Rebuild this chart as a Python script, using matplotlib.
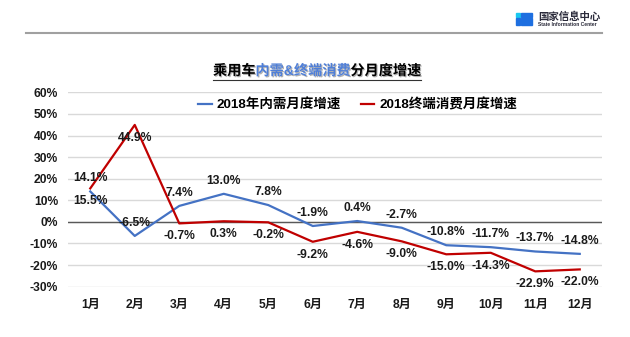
import matplotlib
matplotlib.use('Agg')
import matplotlib.pyplot as plt
import matplotlib.patheffects as pe
from matplotlib.offsetbox import TextArea, HPacker, AnchoredOffsetbox
from matplotlib.patches import Rectangle
from matplotlib.lines import Line2D

plt.rcParams['font.family'] = ['Liberation Sans', 'Noto Sans CJK SC', 'DejaVu Sans']
plt.rcParams['font.weight'] = 'bold'

months = ['1月', '2月', '3月', '4月', '5月', '6月', '7月', '8月', '9月', '10月', '11月', '12月']
neixu = [14.1, -6.5, 7.4, 13.0, 7.8, -1.9, 0.4, -2.7, -10.8, -11.7, -13.7, -14.8]
zhongduan = [15.5, 44.9, -0.7, 0.3, -0.2, -9.2, -4.6, -9.0, -15.0, -14.3, -22.9, -22.0]
yticks = [-30, -20, -10, 0, 10, 20, 30, 40, 50, 60]

blue = '#4472C4'
red = '#C00000'

W, H = 630, 337
fig = plt.figure(figsize=(6.3, 3.37), dpi=100)
ax = fig.add_axes([68 / W, 1 - 286.7 / H, (602 - 68) / W, (286.7 - 92.3) / H])

x = list(range(len(months)))
ax.plot(x, neixu, color=blue, lw=1.6, label='2018年内需月度增速', zorder=3)
ax.plot(x, zhongduan, color=red, lw=1.6, label='2018终端消费月度增速', zorder=3)

for i, v in enumerate(neixu):
    ax.annotate(f'{v:.1f}%', (i, v), xytext=(0, 13), textcoords='offset pixels',
                ha='center', va='center', fontsize=8.7, fontweight='bold', color='#1a1a1a', zorder=4)
for i, v in enumerate(zhongduan):
    ax.annotate(f'{v:.1f}%', (i, v), xytext=(0, -13), textcoords='offset pixels',
                ha='center', va='center', fontsize=8.7, fontweight='bold', color='#1a1a1a', zorder=4)

ax.set_xlim(-0.5, len(months) - 0.5)
ax.set_ylim(-30, 60)
ax.set_yticks(yticks)
ax.set_yticklabels([f'{t}%' for t in yticks])
ax.set_xticks(x)
ax.set_xticklabels(months)
ax.tick_params(length=0, labelsize=8.7, colors='#1a1a1a')
ax.tick_params(axis='x', pad=9)
ax.tick_params(axis='y', pad=7)
for lab in ax.get_xticklabels() + ax.get_yticklabels():
    lab.set_fontweight('bold')
ax.grid(axis='y', color='#D9D9D9', lw=1)
ax.axhline(0, color='#595959', lw=1, zorder=2)
for s in ax.spines.values():
    s.set_visible(False)

leg = ax.legend(loc='center', bbox_to_anchor=((357.5 - 68) / 534, 1 - (105 - 92.3) / (286.7 - 92.3)),
                ncol=2, frameon=False, handlelength=1.0, handletextpad=0.35,
                columnspacing=1.5, prop={'weight': 'bold', 'size': 9.7})

# title with coloured middle part
tp = dict(fontsize=10.2, fontweight='bold',
          path_effects=[pe.SimplePatchShadow(offset=(0.8, -0.8), shadow_rgbFace='#666666', alpha=0.5), pe.Normal()])
parts = [TextArea('乘用车', textprops=dict(color='black', **tp)),
         TextArea('内需&终端消费', textprops=dict(color='#4F7FD8', **tp)),
         TextArea('分月度增速', textprops=dict(color='black', **tp))]
box = HPacker(children=parts, align='baseline', pad=0, sep=0)
anchored = AnchoredOffsetbox(loc='center', child=box, pad=0, frameon=False,
                             bbox_to_anchor=(317 / W, 1 - 71 / H), bbox_transform=fig.transFigure)
fig.add_artist(anchored)
fig.canvas.draw()
bb = anchored.get_window_extent(fig.canvas.get_renderer())
fig.add_artist(Line2D([bb.x0 / W, bb.x1 / W], [1 - 80 / H, 1 - 80 / H], color='#333333', lw=0.8))

# header
fig.add_artist(Line2D([26 / W, 602 / W], [1 - 33 / H, 1 - 33 / H], color='#A0A0A0', lw=1.5))
fig.add_artist(Rectangle((516 / W, 1 - 17 / H), 4 / W, 4 / H, color='#19C8F0'))
fig.add_artist(Rectangle((521 / W, 1 - 17 / H), 11 / W, 4 / H, color='#1E6FE0'))
fig.add_artist(Rectangle((516 / W, 1 - 25 / H), 4 / W, 7 / H, color='#1E6FE0'))
fig.add_artist(Rectangle((521 / W, 1 - 25 / H), 11 / W, 7 / H, color='#1E6FE0'))
fig.text(538 / W, 1 - 16.5 / H, '国家信息中心', fontsize=7.5, fontweight='bold', color='#2b2b3b',
         family=['Noto Sans CJK SC'], va='center', ha='left')
fig.text(538 / W, 1 - 24 / H, 'State Information Center', fontsize=3.6, fontweight='bold', color='#2b2b3b',
         va='center', ha='left')

fig.savefig('out.png', dpi=100)
